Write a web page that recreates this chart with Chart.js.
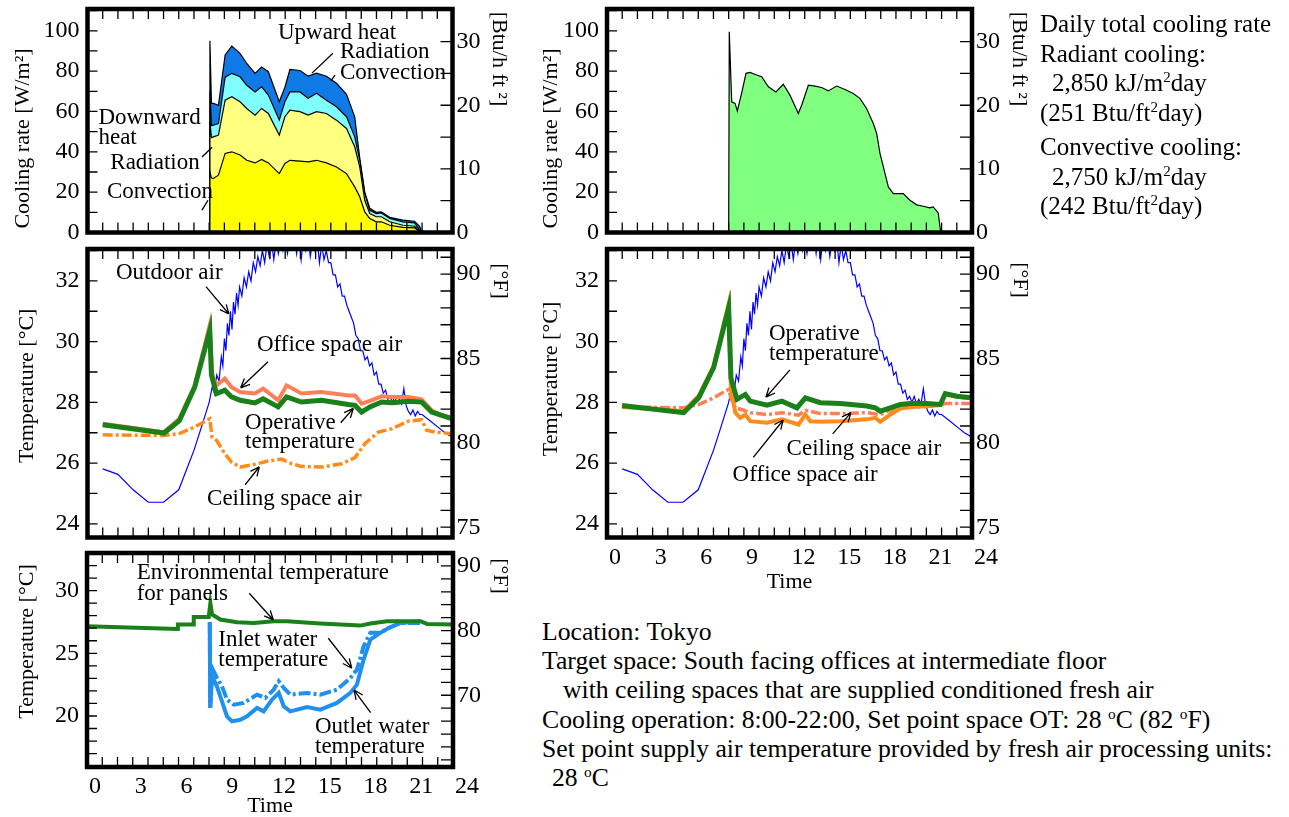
<!DOCTYPE html>
<html>
<head>
<meta charset="utf-8">
<script src="https://cdn.jsdelivr.net/npm/chart.js@4.4.0/dist/chart.umd.min.js"></script>
<style>
  html, body { margin: 0; padding: 0; background: #fff; width: 1289px; height: 817px; overflow: hidden; position: relative; font-family: 'Liberation Serif', serif; }
  canvas { position: absolute; }
  .txt { position: absolute; font-size: 25px; line-height: 29.5px; white-space: nowrap; color: #000; }
  .notes { font-size: 25.7px; line-height: 29.2px; }
  .sup { font-size: 60%; vertical-align: 0.6em; line-height: 0; }
</style>
</head>
<body>
<canvas id="tl"></canvas>
<canvas id="tr"></canvas>
<canvas id="ml"></canvas>
<canvas id="mr"></canvas>
<canvas id="bl"></canvas>

<div class="txt" style="left:1040px; top:9px;">
  <div>Daily total cooling rate</div>
  <div>Radiant cooling:</div>
  <div style="padding-left:12px">2,850 kJ/m<span class="sup">2</span>day</div>
  <div>(251 Btu/ft<span class="sup">2</span>day)</div>
  <div style="margin-top:5px">Convective cooling:</div>
  <div style="padding-left:12px">2,750 kJ/m<span class="sup">2</span>day</div>
  <div>(242 Btu/ft<span class="sup">2</span>day)</div>
</div>

<div class="txt notes" style="left:542px; top:617px;">
  <div>Location: Tokyo</div>
  <div>Target space: South facing offices at intermediate floor</div>
  <div style="padding-left:21px">with ceiling spaces that are supplied conditioned fresh air</div>
  <div>Cooling operation: 8:00-22:00, Set point space OT: 28 <span class="sup">o</span>C (82 <span class="sup">o</span>F)</div>
  <div>Set point supply air temperature provided by fresh air processing units:</div>
  <div style="padding-left:10px">28 <span class="sup">o</span>C</div>
</div>

<script>
// ---- tick labels ----
var hourTicks = [0, 3, 6, 9, 12, 15, 18, 21, 24];
var coolTicks = [0, 20, 40, 60, 80, 100];
var btuTicks = [0, 10, 20, 30];
var tempTicksC = [24, 26, 28, 30, 32];
var tempTicksF = [75, 80, 85, 90];
var waterTicksC = [20, 25, 30];
var waterTicksF = [70, 80, 90];

// ---- top left: cooling rate components (W/m2), stacked ----
var coolHours = [0, 8.0, 8.05, 8.15, 8.28, 8.61, 9.05, 9.49, 10.03, 10.47, 11.02, 11.45, 11.89, 12.61, 12.98, 13.31, 13.97, 14.51, 15.06, 15.71, 16.37, 17.03, 17.57, 17.9, 18.23, 18.56, 18.99, 19.32, 19.87, 20.74, 21.5, 21.84, 22.0];
var downConv = [0, 0, 30, 27, 26.8, 28.4, 39.2, 40, 38.4, 35.8, 34.5, 36.2, 34.5, 29.2, 34.2, 35.8, 35.4, 35, 35.8, 34.5, 32.5, 29.2, 22.6, 17.7, 10.2, 6.9, 5.3, 5.3, 3.6, 2.5, 2.3, 0.5, 0];
var downRad = [0, 0, 25, 20, 20.6, 19.9, 26.4, 27.3, 26.4, 25.7, 23.7, 25.3, 24.5, 19.1, 23.2, 24.9, 24.5, 23.2, 24.1, 24.5, 23.2, 22.4, 19.9, 14.8, 5.8, 2.5, 2.5, 2.5, 1.7, 1.1, 0.8, 0.3, 0];
var upConv = [0, 0, 15, 6, 5.8, 5.7, 11.4, 11.6, 12.4, 11.5, 11.5, 10.7, 9.1, 7.4, 7.4, 9, 9.8, 8.3, 9.1, 6.6, 6.6, 5.8, 4.9, 3.3, 3.3, 1.6, 1.6, 1.9, 1.7, 1.7, 1.7, 0.3, 0];
var upRad = [0, 0, 25, 11, 10.8, 9, 11, 13.5, 11.6, 10.8, 9.2, 9.8, 11.6, 9.1, 7.2, 11.1, 10.6, 11, 10, 11.9, 11.7, 11.1, 9.9, 1.2, 0.7, 1, 0.6, 0.5, 0.5, 0.8, 0.8, 1.9, 0];

// ---- top right: total cooling rate (W/m2) ----
var totalHours = [0, 8.0, 8.04, 8.2, 8.42, 8.57, 8.85, 9.14, 9.4, 9.84, 10.17, 10.61, 11.11, 11.59, 12.03, 12.58, 12.8, 13.24, 13.68, 14.11, 14.55, 15.1, 15.65, 16.19, 16.63, 17.07, 17.51, 17.73, 17.95, 18.28, 18.5, 18.83, 19.48, 19.92, 20.36, 20.8, 21.23, 21.45, 21.78, 21.94];
var totalCool = [0, 0, 99.5, 64.8, 64, 60.3, 69, 78.9, 79.4, 78.1, 77.2, 72.2, 69.7, 73.5, 68.1, 59, 63.1, 73, 72.6, 71.9, 70.2, 72.6, 70.9, 68.9, 66.5, 61.5, 54, 49.1, 39.2, 29.2, 22.6, 19.3, 19.3, 16, 13.7, 13, 12.2, 12.7, 9.7, 0];

// ---- outdoor air (deg C), shared by both middle panels ----
var outHours = [1, 2, 3, 4, 5, 6, 7, 7.5, 8.0, 8.2, 8.35, 8.5, 8.65, 8.8, 8.9, 9.0, 9.1, 9.2, 9.3, 9.4, 9.5, 9.6, 9.7, 9.8, 9.9, 10.0, 10.15, 10.3, 10.45, 10.6, 10.75, 10.9, 11.05, 11.2, 11.35, 11.5, 11.65, 11.8, 11.95, 12.1, 12.25, 12.4, 12.55, 12.7, 12.85, 13.0, 13.15, 13.3, 13.45, 13.6, 13.75, 13.9, 14.05, 14.2, 14.35, 14.5, 14.65, 14.8, 14.95, 15.1, 15.25, 15.4, 15.55, 15.7, 15.85, 16.0, 16.15, 16.3, 16.45, 16.6, 16.75, 16.9, 17.05, 17.2, 17.35, 17.5, 17.65, 17.8, 17.95, 18.1, 18.25, 18.4, 18.55, 18.7, 18.85, 19.0, 19.15, 19.3, 19.45, 19.6, 19.75, 19.9, 20.05, 20.2, 20.35, 20.5, 20.65, 20.8, 20.95, 21.1, 21.25, 21.4, 21.55, 21.7, 21.85, 22.0, 22.5, 23.0, 23.5, 24.0];
var outTemp = [25.81, 25.63, 25.12, 24.71, 24.71, 25.12, 26.42, 27.2, 28.0, 28.5, 28.3, 28.9, 28.7, 29.5, 29.2, 30.1, 29.7, 30.6, 30.2, 31.0, 30.4, 31.3, 30.9, 31.6, 31.2, 31.8, 31.5, 32.1, 31.8, 32.3, 32.0, 32.6, 32.3, 32.8, 32.5, 33.0, 32.6, 33.2, 32.8, 33.3, 32.7, 33.3, 32.9, 33.4, 33.0, 33.4, 32.9, 33.4, 33.1, 33.5, 32.9, 33.5, 32.7, 33.4, 33.0, 33.5, 32.8, 33.3, 33.0, 33.4, 32.6, 33.2, 32.7, 33.0, 32.6, 32.6, 32.2, 32.2, 31.8, 31.9, 31.5, 31.5, 31.2, 31.0, 30.8, 30.6, 30.2, 30.1, 29.7, 29.7, 29.4, 29.5, 29.2, 29.3, 28.9, 29.0, 28.6, 28.6, 28.3, 28.4, 28.1, 28.2, 28.0, 28.2, 27.95, 28.1, 27.95, 28.45, 27.9, 27.7, 27.6, 27.75, 27.55, 27.7, 27.6, 27.6, 27.4, 27.2, 27.0, 26.85];

// ---- middle left: case 1 temperatures (deg C) ----
var mlOfficeHours = [1, 5.03, 6.04, 7.05, 8.04, 8.19, 8.48, 9.03, 9.47, 10.04, 11.0, 11.55, 12.54, 13.09, 14.07, 15.39, 17.15, 17.59, 18.02, 18.57, 19.34, 20.04, 21.1, 21.97, 22.63, 23.29, 24];
var mlOffice = [27.3, 27.02, 27.46, 28.56, 30.54, 28.95, 28.56, 28.78, 28.5, 28.34, 28.29, 28.45, 28.07, 28.56, 28.29, 28.34, 28.23, 28.23, 27.96, 28.05, 28.2, 28.18, 28.18, 28.1, 27.74, 27.57, 27.46];
var mlOpHours = [1, 5.03, 6.04, 7.05, 8.04, 8.15, 8.48, 9.03, 9.47, 10.04, 11.0, 11.55, 12.54, 13.09, 14.07, 15.39, 17.15, 17.59, 18.02, 18.57, 19.34, 20.04, 21.1, 21.97, 22.63, 23.29, 24];
var mlOp = [27.26, 26.99, 27.4, 28.5, 30.37, 28.9, 28.29, 28.4, 28.18, 28.07, 27.98, 28.12, 27.85, 28.18, 28.01, 28.07, 27.93, 27.9, 27.68, 27.85, 28.01, 27.99, 28.04, 28.01, 27.68, 27.57, 27.46];
var mlCeilHours = [1, 5.03, 6.04, 7.05, 8.04, 8.19, 8.48, 9.03, 9.47, 10.04, 11.0, 11.88, 12.76, 13.42, 14.07, 15.39, 16.71, 17.59, 18.24, 19.12, 20.0, 21.1, 21.97, 22.3, 22.85, 24];
var mlCeil = [26.93, 26.91, 26.97, 27.19, 27.46, 26.85, 26.75, 26.31, 26.03, 25.87, 25.96, 26.07, 26.13, 25.98, 25.89, 25.87, 25.98, 26.18, 26.64, 27.02, 27.13, 27.38, 27.43, 27.08, 27.02, 26.97];

// ---- middle right: case 2 temperatures (deg C) ----
var mrOpHours = [0.99, 5.04, 6.03, 7.01, 8.0, 8.15, 8.55, 9.09, 9.42, 10.52, 11.5, 12.49, 13.04, 14.03, 15.34, 17.09, 17.64, 17.97, 18.63, 19.29, 19.94, 21.04, 21.92, 22.24, 23.01, 24];
var mrOp = [27.9, 27.66, 28.15, 29.14, 31.12, 28.8, 28.1, 28.26, 28.04, 27.91, 28.04, 27.82, 28.15, 27.99, 27.96, 27.88, 27.82, 27.71, 27.82, 27.93, 27.96, 27.96, 27.93, 28.29, 28.2, 28.15];
var mrOfficeHours = [0.99, 5.04, 6.03, 7.01, 8.0, 8.15, 8.44, 8.77, 9.09, 9.42, 10.52, 11.5, 12.6, 13.04, 13.37, 14.03, 15.34, 17.09, 17.64, 17.97, 18.63, 19.29, 19.94, 21.04, 21.92, 22.24, 23.01, 24];
var mrOffice = [27.85, 27.71, 28.21, 29.2, 31.25, 28.4, 27.66, 27.49, 27.6, 27.38, 27.33, 27.44, 27.27, 27.6, 27.38, 27.36, 27.38, 27.44, 27.49, 27.36, 27.6, 27.8, 27.85, 27.88, 27.91, 28.26, 28.18, 28.13];
var mrCeilHours = [0.99, 5.04, 6.03, 7.01, 8.0, 8.15, 8.44, 8.99, 9.42, 10.52, 11.5, 12.6, 13.04, 14.03, 15.34, 17.09, 17.97, 18.63, 19.29, 21.04, 21.92, 22.24, 24];
var mrCeil = [27.85, 27.82, 27.93, 28.15, 28.43, 28.15, 27.82, 27.74, 27.66, 27.6, 27.66, 27.58, 27.74, 27.63, 27.63, 27.66, 27.6, 27.74, 27.82, 27.86, 27.91, 27.96, 27.96];

// ---- bottom left: panel water temperatures (deg C) ----
var envHours = [0, 5.95, 5.96, 6.99, 7.0, 7.98, 8.09, 8.2, 8.74, 9.84, 10.93, 12.24, 13.11, 15.3, 17.92, 18.58, 19.67, 21.86, 22.3, 24];
var envTemp = [27.15, 26.94, 27.29, 27.29, 27.9, 27.9, 29.0, 28.1, 27.69, 27.47, 27.42, 27.56, 27.56, 27.37, 27.21, 27.37, 27.56, 27.56, 27.34, 27.29];
var inletHours = [8.05, 8.08, 8.2, 8.52, 8.85, 9.18, 9.62, 10.27, 11.15, 11.69, 12.24, 12.57, 12.9, 13.33, 14.43, 15.3, 16.39, 17.27, 17.7, 18.14, 18.58, 19.23, 19.78, 20.55, 21.64, 21.86];
var inletTemp = [27.5, 20.64, 23.83, 23.03, 22.37, 21.3, 20.9, 21.04, 21.7, 21.44, 22.1, 22.77, 22.24, 21.7, 21.84, 21.7, 22.1, 23.03, 23.7, 25.56, 26.63, 26.63, 27.02, 27.42, 27.42, 27.42];
var outletHours = [8.05, 8.08, 8.2, 8.52, 8.85, 9.18, 9.51, 10.05, 10.49, 11.15, 11.58, 12.13, 12.57, 12.9, 13.33, 14.43, 15.3, 16.39, 17.27, 17.7, 18.14, 18.58, 19.23, 19.78, 20.55, 21.86];
var outletTemp = [27.5, 20.64, 23.16, 22.37, 21.17, 19.97, 19.57, 19.7, 19.97, 20.64, 20.37, 21.3, 21.84, 20.77, 20.37, 20.72, 20.5, 21.04, 21.84, 22.5, 24.5, 26.1, 26.63, 27.02, 27.42, 27.55];

var FONT = "'Liberation Serif', 'Times New Roman', serif";
Chart.defaults.font.family = FONT;
Chart.defaults.color = '#000';

function xy(hs, vs) {
  return hs.map(function(h, i) { return {x: h, y: vs[i]}; });
}

function stepValues(min, max, step) {
  var out = [];
  for (var v = Math.ceil(min / step - 1e-9) * step; v <= max + 1e-9; v += step) out.push(+v.toFixed(4));
  return out;
}

// frame, inward ticks, notes, arrows and axis titles
var decor = {
  id: 'decor',
  afterDatasetsDraw: function(chart, args, o) {
    var ctx = chart.ctx, a = chart.chartArea;
    var sx = chart.scales.x, sy = chart.scales.y, sy2 = chart.scales.y2;
    ctx.save();
    ctx.strokeStyle = '#000';
    ctx.lineWidth = 1.3;
    ctx.beginPath();
    stepValues(1, 23, 1).forEach(function(h) {
      var p = sx.getPixelForValue(h);
      ctx.moveTo(p, a.bottom); ctx.lineTo(p, a.bottom - 10);
      ctx.moveTo(p, a.top); ctx.lineTo(p, a.top + 10);
    });
    stepValues(sy.min, sy.max, o.leftStep).forEach(function(v) {
      var p = sy.getPixelForValue(v);
      ctx.moveTo(a.left, p); ctx.lineTo(a.left + 10, p);
    });
    stepValues(sy2.min, sy2.max, o.rightStep).forEach(function(v) {
      var p = sy2.getPixelForValue(v);
      ctx.moveTo(a.right, p); ctx.lineTo(a.right - 12, p);
    });
    ctx.stroke();
    ctx.lineWidth = 4.5;
    ctx.strokeRect(a.left, a.top, a.right - a.left, a.bottom - a.top);

    ctx.fillStyle = '#000';
    ctx.font = '23px ' + FONT;
    ctx.textBaseline = 'middle';
    ctx.textAlign = 'left';
    (o.notes || []).forEach(function(n) {
      ctx.fillText(n[0], sx.getPixelForValue(n[1]), sy.getPixelForValue(n[2]));
    });
    ctx.lineWidth = 1.3;
    (o.arrows || []).forEach(function(r) {
      var x1 = sx.getPixelForValue(r[0]), y1 = sy.getPixelForValue(r[1]);
      var x2 = sx.getPixelForValue(r[2]), y2 = sy.getPixelForValue(r[3]);
      ctx.beginPath();
      ctx.moveTo(x1, y1); ctx.lineTo(x2, y2);
      if (r[4]) {
        var ang = Math.atan2(y2 - y1, x2 - x1);
        [0.42, -0.42].forEach(function(d) {
          ctx.moveTo(x2, y2);
          ctx.lineTo(x2 - 10 * Math.cos(ang + d), y2 - 10 * Math.sin(ang + d));
        });
      }
      ctx.stroke();
    });

    ctx.font = '22px ' + FONT;
    ctx.textAlign = 'center';
    (o.titles || []).forEach(function(t) {
      ctx.save();
      ctx.translate(t[1], t[2]);
      ctx.rotate(t[3] * Math.PI / 180);
      ctx.fillText(t[0], 0, 0);
      ctx.restore();
    });
    ctx.restore();
  }
};

function yAxis(pos, min, max, ticks, width, pad, stacked) {
  return {
    type: 'linear', position: pos, min: min, max: max, stacked: !!stacked,
    grid: {display: false, drawTicks: false},
    border: {display: false},
    ticks: {padding: pad, font: {size: 24, family: FONT}, autoSkip: false},
    afterBuildTicks: function(s) { s.ticks = ticks.map(function(v) { return {value: v}; }); },
    afterFit: function(s) { s.width = width; s.paddingTop = 0; s.paddingBottom = 0; }
  };
}

function panel(id, box, area, datasets, o) {
  var cv = document.getElementById(id);
  cv.width = box.w; cv.height = box.h;
  cv.style.left = box.x + 'px'; cv.style.top = box.y + 'px';
  cv.style.width = box.w + 'px'; cv.style.height = box.h + 'px';
  var titles = o.titles.map(function(t) { return [t[0], t[1] - box.x, t[2] - box.y, t[3]]; });
  new Chart(cv, {
    type: 'line',
    data: {datasets: datasets},
    options: {
      responsive: false,
      animation: false,
      events: [],
      layout: {padding: {top: area.t - box.y, bottom: box.y + box.h - area.b - o.xh, left: 0, right: 0}},
      elements: {point: {radius: 0}, line: {tension: 0}},
      plugins: {
        legend: {display: false},
        tooltip: {enabled: false},
        decor: {leftStep: o.leftStep, rightStep: o.rightStep, notes: o.notes, arrows: o.arrows, titles: titles}
      },
      scales: {
        x: {
          type: 'linear', min: 0, max: 24,
          grid: {display: false, drawTicks: false},
          border: {display: false},
          ticks: {display: !!o.xLabels, align: 'start', labelOffset: 2, padding: o.xPad || 0, font: {size: 24, family: FONT}, autoSkip: false, maxRotation: 0},
          afterBuildTicks: function(s) { s.ticks = hourTicks.map(function(v) { return {value: v}; }); },
          afterFit: function(s) { s.height = o.xh; s.paddingLeft = 0; s.paddingRight = 0; },
          title: {display: !!o.xLabels, text: 'Time', font: {size: 22, family: FONT}, padding: 0}
        },
        y: yAxis('left', o.yMin, o.yMax, o.yTicks, area.l - box.x, 8, o.stacked),
        y2: yAxis('right', o.y2Min, o.y2Max, o.y2Ticks, box.x + box.w - area.r, 4, false)
      }
    },
    plugins: [decor]
  });
}

function line(hs, vs, color, width, dash) {
  return {data: xy(hs, vs), borderColor: color, borderWidth: width, borderDash: dash || [], fill: false, borderCapStyle: 'butt'};
}
function area(hs, vs, color, fill) {
  return {data: xy(hs, vs), borderColor: '#000', borderWidth: 1.2, backgroundColor: color, fill: fill};
}

var W2BTU = 3.1546;
var GREEN = '#1a801a', SALMON = '#ff8058', ORANGE = '#ff8c1a', SKY = '#2090f0';
var DASH = [10, 3, 3, 3];

// top left
panel('tl', {x: 0, y: 0, w: 540, h: 250}, {l: 87.5, t: 9, r: 452.5, b: 232.5}, [
  area(coolHours, downConv, '#ffff00', 'origin'),
  area(coolHours, downRad, '#ffff80', '-1'),
  area(coolHours, upConv, '#80ffff', '-1'),
  area(coolHours, upRad, '#0f7ae5', '-1')
], {
  xh: 0, stacked: true,
  yMin: 0, yMax: 110.8, yTicks: coolTicks, leftStep: 10,
  y2Min: 0, y2Max: 110.8 / W2BTU, y2Ticks: btuTicks, rightStep: 5,
  notes: [['Upward heat', 12.52, 98.9], ['Radiation', 16.6, 89.4], ['Convection', 16.6, 79],
          ['Downward', 0.72, 56.6], ['heat', 0.72, 46.8], ['Radiation', 1.5, 34.4], ['Convection', 1.28, 20]],
  arrows: [[16.14, 88.9, 14.76, 79.0, false], [16.27, 78.0, 16.0, 75.0, false],
           [7.53, 37.4, 8.19, 42.3, false], [7.53, 11.1, 7.92, 16.0, false]],
  titles: [['Cooling rate [W/m²]', 23, 138.5, -90], ['[Btu/h ft ²]', 499, 59, 90]]
});

// top right
panel('tr', {x: 520, y: 0, w: 520, h: 250}, {l: 607, t: 9, r: 972, b: 232.5}, [
  area(totalHours, totalCool, '#80ff80', 'origin')
], {
  xh: 0,
  yMin: 0, yMax: 110.8, yTicks: coolTicks, leftStep: 10,
  y2Min: 0, y2Max: 110.8 / W2BTU, y2Ticks: btuTicks, rightStep: 5,
  notes: [], arrows: [],
  titles: [['Cooling rate [W/m²]', 551.7, 138.5, -90], ['[Btu/h ft ²]', 1019, 59, 90]]
});

// middle left
panel('ml', {x: 0, y: 238, w: 540, h: 310}, {l: 87.5, t: 249, r: 452.5, b: 537.5}, [
  line(mlOpHours, mlOp, GREEN, 5),
  line(mlOfficeHours, mlOffice, SALMON, 4),
  line(mlCeilHours, mlCeil, ORANGE, 3.5, DASH),
  line(outHours, outTemp, '#0000ff', 1.2)
], {
  xh: 0,
  yMin: 23.55, yMax: 33.05, yTicks: tempTicksC, leftStep: 1,
  y2Min: 23.55 * 1.8 + 32, y2Max: 33.05 * 1.8 + 32, y2Ticks: tempTicksF, rightStep: 1,
  notes: [['Outdoor air', 1.87, 32.25], ['Office space air', 11.14, 29.89], ['Operative', 10.36, 27.33],
          ['temperature', 10.36, 26.70], ['Ceiling space air', 7.86, 24.81]],
  arrows: [[7.79, 31.81, 9.30, 30.91, true], [11.87, 29.34, 10.07, 28.48, true],
           [16.65, 27.33, 17.48, 27.80, true], [10.36, 25.28, 11.30, 25.88, true]],
  titles: [['Temperature [°C]', 27, 385.8, -90], ['[°F]', 500, 281, 90]]
});

// middle right
panel('mr', {x: 520, y: 238, w: 520, h: 365}, {l: 607, t: 249, r: 972, b: 537.5}, [
  line(mrOpHours, mrOp, GREEN, 5),
  line(mrOfficeHours, mrOffice, ORANGE, 4),
  line(mrCeilHours, mrCeil, SALMON, 3.5, DASH),
  line(outHours, outTemp, '#0000ff', 1.2)
], {
  xh: 57.7, xLabels: true, xPad: 6,
  yMin: 23.55, yMax: 33.05, yTicks: tempTicksC, leftStep: 1,
  y2Min: 23.55 * 1.8 + 32, y2Max: 33.05 * 1.8 + 32, y2Ticks: tempTicksF, rightStep: 1,
  notes: [['Operative', 10.65, 30.25], ['temperature', 10.65, 29.58], ['Ceiling space air', 11.81, 26.45],
          ['Office space air', 8.26, 25.61]],
  arrows: [[12.03, 29.07, 10.45, 28.17, true], [14.84, 26.96, 16.04, 27.66, true],
           [9.62, 26.19, 11.59, 27.42, true]],
  titles: [['Temperature [°C]', 551.7, 379, -90], ['[°F]', 1020, 280, 90]]
});

// bottom left
panel('bl', {x: 0, y: 545, w: 540, h: 280}, {l: 87, t: 553, r: 453, b: 767}, [
  line(envHours, envTemp, GREEN, 4),
  line(outletHours, outletTemp, SKY, 4),
  line(inletHours, inletTemp, SKY, 4, [12, 3, 3, 3])
], {
  xh: 52.9, xLabels: true, xPad: 5,
  yMin: 15.93, yMax: 33.0, yTicks: waterTicksC, leftStep: 1,
  y2Min: 58.9, y2Max: 92.0, y2Ticks: waterTicksF, rightStep: 2,
  notes: [['Environmental temperature', 3.26, 31.39], ['for panels', 3.26, 29.74],
          ['Inlet water', 8.61, 26.07], ['temperature', 8.61, 24.47],
          ['Outlet water', 14.95, 19.15], ['temperature', 14.95, 17.55]],
  arrows: [[10.64, 29.79, 12.22, 27.66, true], [15.82, 26.2, 17.36, 23.81, true],
           [18.6, 20.26, 17.51, 22.07, true]],
  titles: [['Temperature [°C]', 27, 641.5, -90], ['[°F]', 500, 576, 90]]
});
</script>
</body>
</html>
